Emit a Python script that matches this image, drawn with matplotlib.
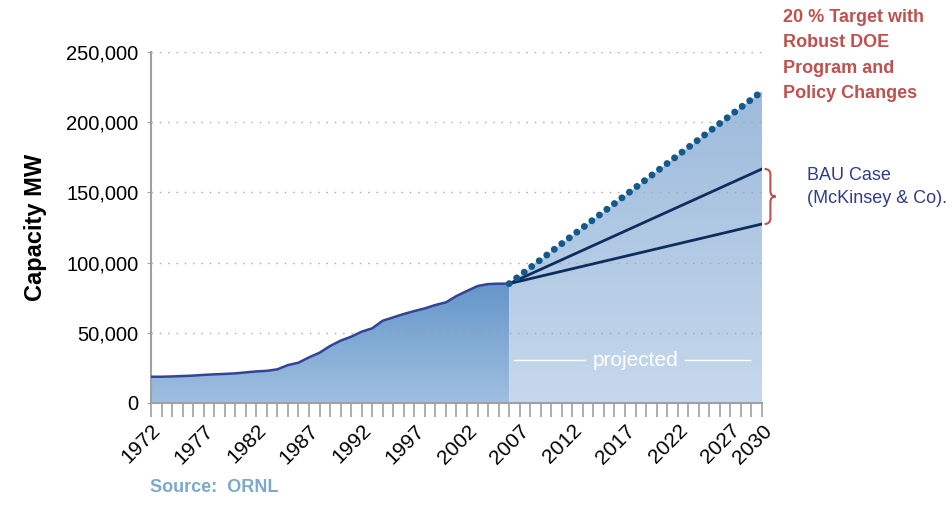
import matplotlib
matplotlib.use("Agg")
import matplotlib.pyplot as plt
import numpy as np
from matplotlib.path import Path
from matplotlib.patches import PathPatch
from matplotlib.colors import LinearSegmentedColormap

plt.rcParams['font.family'] = ['Liberation Sans Narrow', 'Liberation Sans', 'DejaVu Sans']

# historical installed capacity (MW)
years_hist = [1972, 1973, 1974, 1975, 1976, 1977, 1978, 1979, 1980, 1981, 1982, 1983,
              1984, 1985, 1986, 1987, 1988, 1989, 1990, 1991, 1992, 1993, 1994, 1995,
              1996, 1997, 1998, 1999, 2000, 2001, 2002, 2003, 2004, 2005, 2006]
capacity_hist = [18700, 18700, 18900, 19200, 19500, 20000, 20400, 20700, 21100, 21800, 22500, 22900,
                 24000, 27000, 28700, 32500, 35800, 40600, 44400, 47200, 50800, 53200, 58600, 61000,
                 63400, 65500, 67400, 69800, 71700, 76200, 79800, 83300, 84700, 85000, 85000]

# projections 2006 -> 2030
years_proj = [2006, 2030]
target_20pct = [85000, 222000]
bau_high = [85000, 166700]
bau_low = [85000, 127500]

label_years = [1972, 1977, 1982, 1987, 1992, 1997, 2002, 2007, 2012, 2017, 2022, 2027, 2030]
y_ticks = [0, 50000, 100000, 150000, 200000, 250000]

fig = plt.figure(figsize=(9.52, 5.05), dpi=100)
ax = fig.add_axes([0.1586, 0.202, 0.6418, 0.695])
ax.set_xlim(1972, 2030)
ax.set_ylim(0, 250000)


def gradient_fill(x, y, c_top, c_bot, z):
    poly = ax.fill_between(x, y, 0, color='none', lw=0, zorder=z)
    cmap = LinearSegmentedColormap.from_list('g', [c_bot, c_top])
    grad = np.linspace(0, 1, 256).reshape(-1, 1)
    im = ax.imshow(grad, cmap=cmap, origin='lower', aspect='auto',
                   extent=[min(x), max(x), 0, max(y)], zorder=z)
    path = poly.get_paths()[0]
    im.set_clip_path(PathPatch(path, transform=ax.transData))


gradient_fill(years_hist, capacity_hist, '#6496c9', '#a0bfe0', 1)
gradient_fill(years_proj, target_20pct, '#9dbbdc', '#c6d8ec', 1)

ax.plot(years_hist, capacity_hist, color='#33439a', lw=1.8, zorder=3)
ax.plot(years_proj, bau_high, color='#0e2d5e', lw=2, zorder=3)
ax.plot(years_proj, bau_low, color='#0e2d5e', lw=2, zorder=3)
ax.plot(years_proj, target_20pct, color='#14598c', lw=5,
        linestyle=(0, (0.01, 1.35)), dash_capstyle='round', zorder=4)

# grid and axes styling
ax.set_yticks(y_ticks)
ax.set_yticklabels([f"{v:,}" for v in y_ticks])
ax.yaxis.grid(True, color='#a8a8a8', linestyle=(0, (1, 5)), lw=1)
ax.set_axisbelow(False)
ax.set_xticks(range(1972, 2031))
ax.set_xticklabels([str(y) if y in label_years else '' for y in range(1972, 2031)],
                   rotation=45, ha='right', va='top', rotation_mode='anchor')
ax.tick_params(axis='x', length=10, width=1.2, color='#a0a0a0', labelsize=15, pad=3)
ax.tick_params(axis='y', length=3, width=0.8, color='#a0a0a0', labelsize=14.5, pad=6)
for s in ['top', 'right']:
    ax.spines[s].set_visible(False)
for s in ['left', 'bottom']:
    ax.spines[s].set_color('#a0a0a0')
    ax.spines[s].set_linewidth(1.5)
ax.set_ylabel('Capacity MW', fontsize=17, fontweight='bold', labelpad=14)

# "projected" label with white rules
ax.text(2018, 30600, 'projected', color='white', fontsize=15, ha='center', va='center', zorder=5)
ax.plot([2006.5, 2013.2], [30600, 30600], color='white', lw=1, zorder=5)
ax.plot([2022.7, 2028.9], [30600, 30600], color='white', lw=1, zorder=5)

# brace for BAU range
ymid = (bau_high[1] + bau_low[1]) / 2
bx0, bx1, bx2 = 2030.25, 2030.8, 2031.3
verts = [(bx0, bau_high[1]), (bx1, bau_high[1]), (bx1, bau_high[1] - 4000),
         (bx1, ymid + 4000), (bx1, ymid), (bx2, ymid),
         (bx1, ymid), (bx1, ymid - 4000),
         (bx1, bau_low[1] + 4000), (bx1, bau_low[1]), (bx0, bau_low[1])]
codes = [Path.MOVETO, Path.CURVE3, Path.CURVE3, Path.LINETO, Path.CURVE3, Path.CURVE3,
         Path.CURVE3, Path.CURVE3, Path.LINETO, Path.CURVE3, Path.CURVE3]
ax.add_patch(PathPatch(Path(verts, codes), fill=False, edgecolor='#c0504d', lw=1.5, clip_on=False))

fig.text(783 / 952, 1 - 9 / 505, '20 % Target with\nRobust DOE\nProgram and\nPolicy Changes',
         color='#c0504d', fontsize=13, fontweight='bold', ha='left', va='top', linespacing=1.65)
fig.text(807 / 952, 1 - 187 / 505, 'BAU Case\n(McKinsey & Co).', color='#2e3d8a',
         fontsize=13, ha='left', va='center', linespacing=1.45)
fig.text(150 / 952, 1 - 488 / 505, 'Source:  ORNL', color='#7aa9c9', fontsize=13,
         fontweight='bold', ha='left', va='center')

fig.savefig('out.png', dpi=100)
